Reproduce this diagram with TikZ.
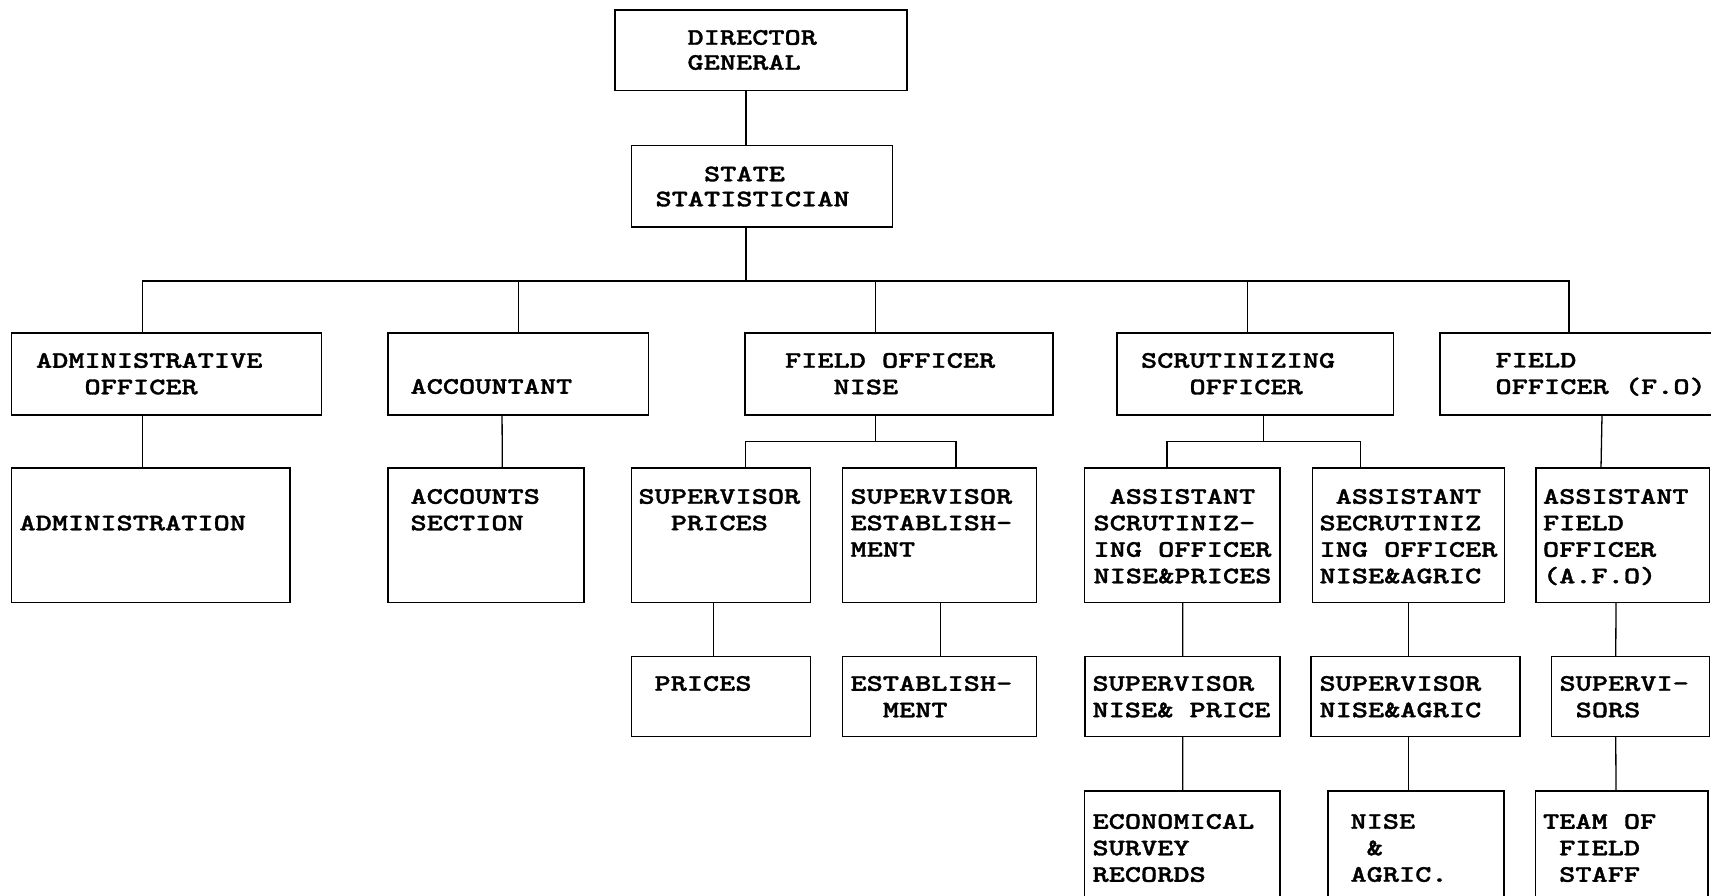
\documentclass[tikz,border=0pt]{standalone}
\usepackage{fontspec}
% bold typewriter face, widened to the proportions of an old line printer
\newfontfamily\orgfont{lmmonolt10-bold.otf}[FakeStretch=1.30, FakeBold=1.4]
% box: name, x1, y1, x2, y2, text options, text corner, text
\newcommand\orgbox[8]{%
  \node[unitbox, minimum width={#4-#2}, minimum height={#5-#3}] (#1) at (#2,#3) {};
  \node[boxtext, #6] (#1-text) at (#7) {#8};}
\newcommand\pad[1]{\hphantom{#1}}
\begin{document}
\begin{tikzpicture}[x=1pt, y=-1pt,
  unitbox/.style={draw, line width=1.8pt, inner sep=0pt, outer sep=0pt, anchor=north west},
  boxtext/.style={anchor=north west, inner sep=0pt, outer sep=0pt, align=left,
    font=\orgfont\fontsize{23.7}{26.5}\selectfont},
  tightlines/.style={font=\orgfont\fontsize{23.7}{25}\selectfont},
  link/.style={line width=1.3pt}]
\useasboundingbox (0,0) rectangle (1711,896);
\fill[white] (0,0) rectangle (1711,896);
\clip (0,0) rectangle (1711,896);

% top of the chart
\orgbox{dg}{615}{10}{907}{90.5}{tightlines}{687.5,30}{DIRECTOR\\GENERAL}
\orgbox{ss}{631.5}{145.5}{892.5}{227}{tightlines}{655.5,166.5}{\pad{XXX}STATE\\STATISTICIAN}

% heads of section
\orgbox{ao}{11.5}{333}{321.5}{415}{}{36,353}{ADMINISTRATIVE\\\pad{XXX}OFFICER}
\orgbox{ac}{388}{333}{648.5}{415}{}{410.5,379}{ACCOUNTANT}
\orgbox{fon}{745}{333}{1053}{415}{}{785,353}{FIELD OFFICER\\\pad{XXX}NISE}
\orgbox{so}{1117}{333}{1393.5}{415}{}{1141,353}{SCRUTINIZING\\\pad{XXX}OFFICER}
\orgbox{fo}{1440}{333}{1714}{415}{}{1495.5,353}{FIELD\\OFFICER (F.O)}

% second level
\orgbox{adm}{11.5}{468}{290}{602.5}{}{19.5,515.5}{ADMINISTRATION}
\orgbox{acs}{388}{468}{584}{602.5}{}{410.5,489}{ACCOUNTS\\SECTION}
\orgbox{sp}{631.5}{468}{810.5}{602.5}{}{638.5,489}{SUPERVISOR\\\pad{XX}PRICES}
\orgbox{se}{842.5}{468}{1036.5}{602.5}{}{850.5,489}{SUPERVISOR\\ESTABLISH-\\MENT}
\orgbox{as1}{1084.5}{468}{1280}{602.5}{}{1093.5,489}{\pad{X}ASSISTANT\\SCRUTINIZ-\\ING OFFICER\\NISE\&PRICES}
\orgbox{as2}{1312.5}{468}{1504.5}{602.5}{}{1319.5,489}{\pad{X}ASSISTANT\\SECRUTINIZ\\ING OFFICER\\NISE\&AGRIC}
\orgbox{afo}{1536}{468}{1709.5}{602.5}{}{1543,489}{ASSISTANT\\FIELD\\OFFICER\\(A.F.O)}

% third level
\orgbox{pr}{631.5}{656.5}{810.5}{736.5}{}{654.5,676}{PRICES}
\orgbox{es}{842.5}{656.5}{1036.5}{736.5}{}{850.5,676}{ESTABLISH-\\\pad{XX}MENT}
\orgbox{snp}{1085}{656.5}{1280}{736.5}{}{1092.5,676}{SUPERVISOR\\NISE\& PRICE}
\orgbox{sna}{1311}{656.5}{1520}{736.5}{}{1319.5,676}{SUPERVISOR\\NISE\&AGRIC}
\orgbox{sups}{1551.5}{656.5}{1709.5}{736.5}{}{1559.5,676}{SUPERVI-\\\pad{X}SORS}

% fourth level
\orgbox{eco}{1084.5}{791}{1280}{910}{}{1092.5,814}{ECONOMICAL\\SURVEY\\RECORDS}
\orgbox{na}{1328}{791}{1504}{910}{}{1350.5,814}{NISE\\\pad{X}\&\\AGRIC.}
\orgbox{team}{1535.5}{791}{1708}{910}{}{1543,814}{TEAM OF\\\pad{X}FIELD\\\pad{X}STAFF}

% reporting lines
\draw[link] ([xshift=-15pt]dg.south) -- ([xshift=-16pt]ss.north);
\draw[link] ([xshift=-16pt]ss.south) -- ++(0,54) coordinate (bus);
\foreach \child/\dx in {ao/-24.1, ac/0, fon/-23.6, so/-7.6, fo/-8}
  \draw[link] (bus) -| ([xshift=\dx pt]\child.north);
\draw[link] ([xshift=-24.1pt]ao.south) -- ([xshift=-8.35pt]adm.north);
\draw[link] ([xshift=-16.2pt]ac.south) -- ([xshift=16.3pt]acs.north);
\draw[link] ([xshift=-23.6pt]fon.south) -- ++(0,26.7) coordinate (fonbus);
\foreach \child/\dx in {sp/24.7, se/16.5}
  \draw[link] (fonbus) -| ([xshift=\dx pt]\child.north);
\draw[link] ([xshift=-7.5pt]sp.south) -- ([xshift=-7.5pt]pr.north);
\draw[link] ([xshift=1.1pt]se.south) -- ([xshift=1.1pt]es.north);
\draw[link] ([xshift=8.25pt]so.south) -- ++(0,26.7) coordinate (sobus);
\foreach \child/\dx in {as1/-15.25, as2/-47.8}
  \draw[link] (sobus) -| ([xshift=\dx pt]\child.north);
\draw[link] ([xshift=0.5pt]as1.south) -- ([xshift=0.3pt]snp.north);
\draw[link] ([xshift=0.3pt]snp.south) -- ([xshift=0.5pt]eco.north);
\draw[link] (as2.south) -- ([xshift=-7pt]sna.north);
\draw[link] ([xshift=-7pt]sna.south) -- ([xshift=-7.5pt]na.north);
\draw[link] ([xshift=25pt]fo.south) -- ([xshift=-21.75pt]afo.north);
\draw[link] ([xshift=-6.75pt]afo.south) -- ([xshift=-14.75pt]sups.north);
\draw[link] ([xshift=-14.75pt]sups.south) -- ([xshift=-5.75pt]team.north);
\end{tikzpicture}
\end{document}
